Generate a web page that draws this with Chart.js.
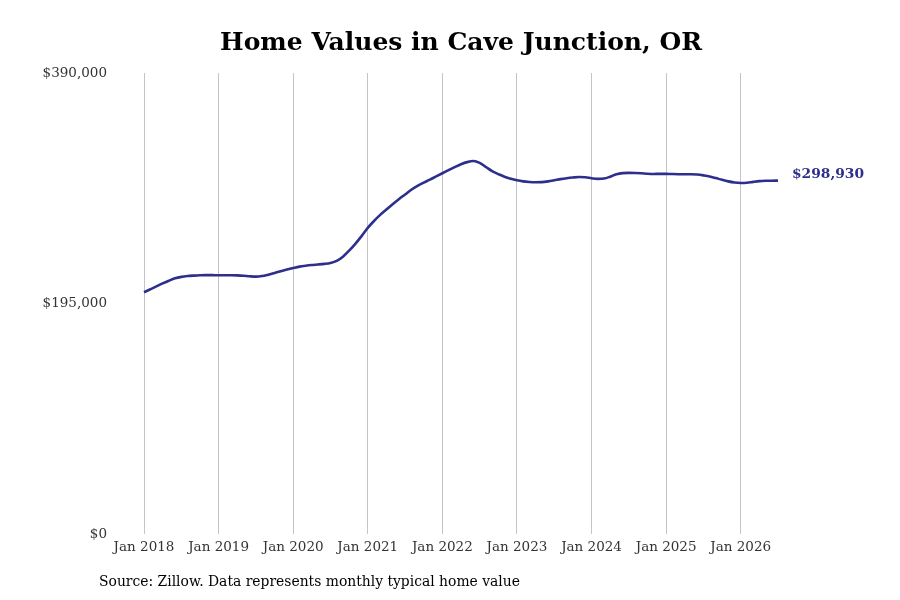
<!DOCTYPE html>
<html>
<head>
<meta charset="utf-8">
<script src="https://cdn.jsdelivr.net/npm/chart.js@4.4.1/dist/chart.umd.min.js"></script>
<style>
  html, body { margin: 0; padding: 0; background: #fff; }
  #wrap { width: 900px; height: 600px; position: relative; }
</style>
</head>
<body>
<div id="wrap"><canvas id="homeChart"></canvas></div>
<script>
// Monthly typical home value, Jan 2018 .. Jul 2026
const startYear = 2018;
const values2018 = [204500, 207000, 209500, 212000, 214300, 216300, 217500, 218200, 218600, 218900, 219000, 219000];
const values2019 = [218900, 218900, 218900, 218800, 218500, 218000, 217700, 218200, 219400, 220800, 222300, 223700];
const values2020 = [225000, 226200, 227000, 227600, 228000, 228500, 229300, 231000, 234600, 239700, 245500, 252000];
const values2021 = [259000, 264800, 270000, 274500, 279000, 283200, 287200, 291200, 294500, 297300, 299800, 302500];
const values2022 = [305200, 307800, 310400, 312800, 314600, 315500, 314000, 310500, 307000, 304500, 302200, 300500];
const values2023 = [299200, 298300, 297800, 297600, 297700, 298300, 299200, 300200, 301000, 301600, 302000, 301800];
const values2024 = [301000, 300400, 300700, 302300, 304300, 305300, 305500, 305400, 305200, 304800, 304600, 304700];
const values2025 = [304700, 304500, 304400, 304400, 304400, 304100, 303400, 302500, 301100, 299600, 298300, 297400];
const values2026 = [297000, 297200, 297900, 298500, 298800, 298900, 298930];
const yTicks = [0, 195000, 390000];

const values = [].concat(values2018, values2019, values2020, values2021, values2022,
  values2023, values2024, values2025, values2026);
const monthNames = ['Jan', 'Feb', 'Mar', 'Apr', 'May', 'Jun', 'Jul', 'Aug', 'Sep', 'Oct', 'Nov', 'Dec'];
const labels = values.map((_, i) => monthNames[i % 12] + ' ' + (startYear + Math.floor(i / 12)));

const lineColor = '#2e2e8c';
const serif = "'DejaVu Serif', 'Liberation Serif', serif";

function money(v) {
  return '$' + v.toLocaleString('en-US');
}

// Title, source note and end-of-line value label
const extras = {
  id: 'extras',
  afterDraw(chart) {
    const ctx = chart.ctx;
    ctx.save();
    ctx.fillStyle = '#000';
    ctx.font = "bold 25px " + serif;
    ctx.textAlign = 'center';
    ctx.textBaseline = 'middle';
    ctx.fillText('Home Values in Cave Junction, OR', 461, 43);

    ctx.font = "13.9px " + serif;
    ctx.textAlign = 'left';
    ctx.fillText('Source: Zillow. Data represents monthly typical home value', 99, 582);

    const meta = chart.getDatasetMeta(0);
    const last = meta.data[meta.data.length - 1];
    ctx.fillStyle = lineColor;
    ctx.font = "bold 13.8px " + serif;
    ctx.fillText(money(values[values.length - 1]), last.x + 14, last.y - 6);
    ctx.restore();
  }
};

new Chart(document.getElementById('homeChart'), {
  type: 'line',
  data: {
    labels: labels,
    datasets: [{
      data: values,
      borderColor: lineColor,
      borderWidth: 2.6,
      pointRadius: 0,
      cubicInterpolationMode: 'monotone',
      fill: false
    }]
  },
  options: {
    responsive: true,
    maintainAspectRatio: false,
    animation: false,
    layout: { padding: { top: 73, right: 122, bottom: 0, left: 0 } },
    plugins: {
      legend: { display: false },
      tooltip: { enabled: false }
    },
    scales: {
      x: {
        offset: false,
        border: { display: false },
        grid: { color: '#c4c4c4', lineWidth: 1, drawTicks: false },
        ticks: {
          autoSkip: false,
          maxRotation: 0,
          padding: 5,
          color: '#333',
          font: { family: serif, size: 13.5 },
          callback: (v, i) => (i % 12 === 0 ? labels[i] : null)
        },
        afterFit: s => { s.height = 66; }
      },
      y: {
        min: 0,
        max: 390000,
        border: { display: false },
        grid: { display: false, drawTicks: false },
        afterBuildTicks: s => { s.ticks = yTicks.map(v => ({ value: v })); },
        ticks: {
          padding: 37,
          color: '#333',
          font: { family: serif, size: 13.5 },
          callback: v => money(v)
        },
        afterFit: s => { s.width = 144; }
      }
    }
  },
  plugins: [extras]
});
</script>
</body>
</html>
